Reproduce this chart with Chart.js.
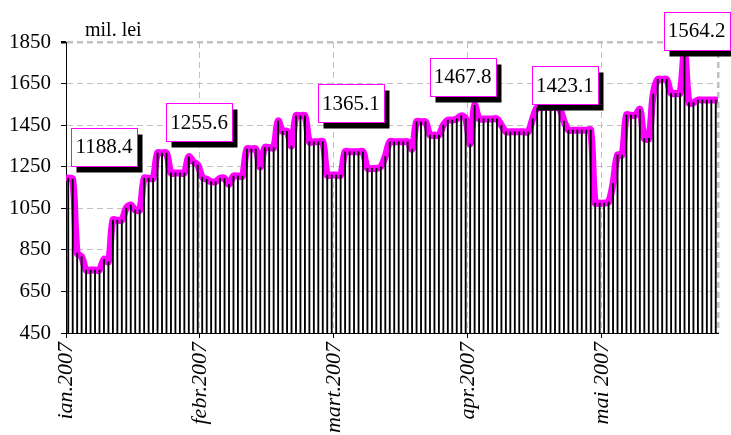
<!DOCTYPE html>
<html>
<head>
    <title>mil. lei 2007</title>
    <script src="https://cdn.jsdelivr.net/npm/chart.js"></script>
    <style>
        body { margin: 0; background: #ffffff; }
    </style>
</head>
<body>
    <canvas id="chart" width="731" height="435"></canvas>

    <script>
        // Month tick labels (one every 30 days)
        var monthLabels = ['ian.2007', 'febr.2007', 'mart.2007', 'apr.2007', 'mai 2007'];
        var daysPerTick = 30;

        // Daily values, mil. lei
        var dailyValues = [
            1195, 1190, 835, 817, 753, 753, 753, 753, 805, 793,
            993, 993, 993, 1051, 1066, 1042, 1042, 1194, 1194, 1194,
            1316, 1316, 1316, 1220, 1220, 1220, 1220, 1298, 1274, 1258,
            1200, 1190, 1178, 1178, 1194, 1194, 1165, 1205, 1205, 1205,
            1335, 1335, 1335, 1248, 1342, 1342, 1342, 1470, 1420, 1420,
            1350, 1495, 1495, 1495, 1370, 1370, 1370, 1370, 1210, 1210,
            1210, 1210, 1322, 1322, 1322, 1322, 1322, 1242, 1242, 1242,
            1250, 1300, 1370, 1370, 1370, 1370, 1370, 1335, 1466, 1466,
            1466, 1402, 1402, 1402, 1450, 1474, 1474, 1480, 1495, 1480,
            1360, 1545, 1480, 1480, 1480, 1480, 1480, 1450, 1418, 1418,
            1418, 1418, 1418, 1418, 1480, 1535, 1535, 1535, 1535, 1535,
            1530, 1470, 1426, 1426, 1426, 1426, 1426, 1426, 1075, 1075,
            1075, 1080, 1170, 1306, 1306, 1498, 1498, 1498, 1526, 1386,
            1386, 1600, 1670, 1670, 1670, 1603, 1603, 1603, 1810, 1558,
            1558, 1571, 1571, 1571, 1571, 1571
        ];

        // Callout texts
        var calloutTexts = ['1188.4', '1255.6', '1365.1', '1467.8', '1423.1', '1564.2'];

        // Where the callouts sit, in axis units (day index, value)
        var calloutAnchors = [
            [8.5, 1345], [29.8, 1463], [63.8, 1556], [88.8, 1683], [111.7, 1641], [141.2, 1903]
        ];

        var yMin = 450, yMax = 1850, yStep = 200;
        var dayCount = dailyValues.length;

        var points = dailyValues.map(function(v, i) {
            return { x: i + 0.5, y: v };
        });

        var serif = "'Liberation Serif', 'Times New Roman', serif";

        // Draws the boxed callouts and the unit text
        var calloutPlugin = {
            id: 'callouts',
            afterDraw: function(chart) {
                var ctx = chart.ctx;
                var xs = chart.scales.x, ys = chart.scales.y;
                var w = 66, h = 38;
                ctx.save();
                ctx.font = '21px ' + serif;
                ctx.textAlign = 'center';
                ctx.textBaseline = 'middle';
                calloutTexts.forEach(function(text, i) {
                    var cx = xs.getPixelForValue(calloutAnchors[i][0]);
                    var cy = ys.getPixelForValue(calloutAnchors[i][1]);
                    var x0 = Math.round(cx - w / 2) + 0.5;
                    var y0 = Math.round(cy - h / 2) + 0.5;
                    ctx.fillStyle = '#000000';
                    ctx.fillRect(x0 + 5, y0 + 6, w, h);
                    ctx.fillStyle = '#ffffff';
                    ctx.fillRect(x0, y0, w, h);
                    ctx.strokeStyle = '#ff00ff';
                    ctx.lineWidth = 1;
                    ctx.strokeRect(x0, y0, w, h);
                    ctx.fillStyle = '#000000';
                    ctx.fillText(text, cx, cy + 1);
                });
                // unit label above the plot
                ctx.textAlign = 'left';
                ctx.textBaseline = 'alphabetic';
                ctx.font = '20px ' + serif;
                ctx.fillText('mil. lei', chart.chartArea.left + 19, chart.chartArea.top - 6);
                ctx.restore();
            }
        };

        var ctx = document.getElementById('chart').getContext('2d');
        new Chart(ctx, {
            data: {
                datasets: [{
                    type: 'bar',
                    data: points,
                    backgroundColor: '#000000',
                    borderWidth: 0,
                    barThickness: 1.2,
                    order: 1
                }, {
                    type: 'line',
                    data: points,
                    borderColor: '#ff00ff',
                    borderWidth: 7,
                    borderJoinStyle: 'round',
                    borderCapStyle: 'round',
                    pointRadius: 0,
                    tension: 0.35,
                    order: 2
                }]
            },
            options: {
                responsive: false,
                devicePixelRatio: 1,
                animation: false,
                layout: { padding: { top: 42, right: 13, bottom: 0, left: 0 } },
                plugins: {
                    legend: { display: false },
                    tooltip: { enabled: false }
                },
                scales: {
                    x: {
                        type: 'linear',
                        min: 0,
                        max: dayCount,
                        offset: false,
                        afterFit: function(scale) {
                            scale.height = 102;
                            scale.paddingLeft = 0;
                            scale.paddingRight = 0;
                        },
                        grid: {
                            offset: false,
                            color: '#c0c0c0',
                            lineWidth: function(c) { return c.tick && c.tick.value === dayCount ? 2.5 : 1; },
                            tickColor: function(c) { return c.tick && c.tick.value === dayCount ? 'rgba(0,0,0,0)' : '#000000'; },
                            tickLength: 5
                        },
                        border: { color: '#000000', width: 1, dash: [6, 4] },
                        ticks: {
                            stepSize: daysPerTick,
                            autoSkip: false,
                            minRotation: 90,
                            maxRotation: 90,
                            padding: 4,
                            color: '#000000',
                            font: { family: serif, size: 22, style: 'italic' },
                            callback: function(value) {
                                if (value % daysPerTick === 0) {
                                    return monthLabels[value / daysPerTick] || '';
                                }
                                return '';
                            }
                        }
                    },
                    y: {
                        min: yMin,
                        max: yMax,
                        afterFit: function(scale) { scale.width = 66; },
                        grid: {
                            color: '#c0c0c0',
                            lineWidth: function(c) { return c.tick && c.tick.value === yMax ? 2.5 : 1; },
                            tickColor: '#000000',
                            tickLength: 5
                        },
                        border: { color: '#000000', width: 1, dash: [6, 4] },
                        ticks: {
                            stepSize: yStep,
                            padding: 10,
                            color: '#000000',
                            font: { family: serif, size: 21 },
                            callback: function(value) { return String(value); }
                        }
                    }
                }
            },
            plugins: [calloutPlugin]
        });
    </script>
</body>
</html>
